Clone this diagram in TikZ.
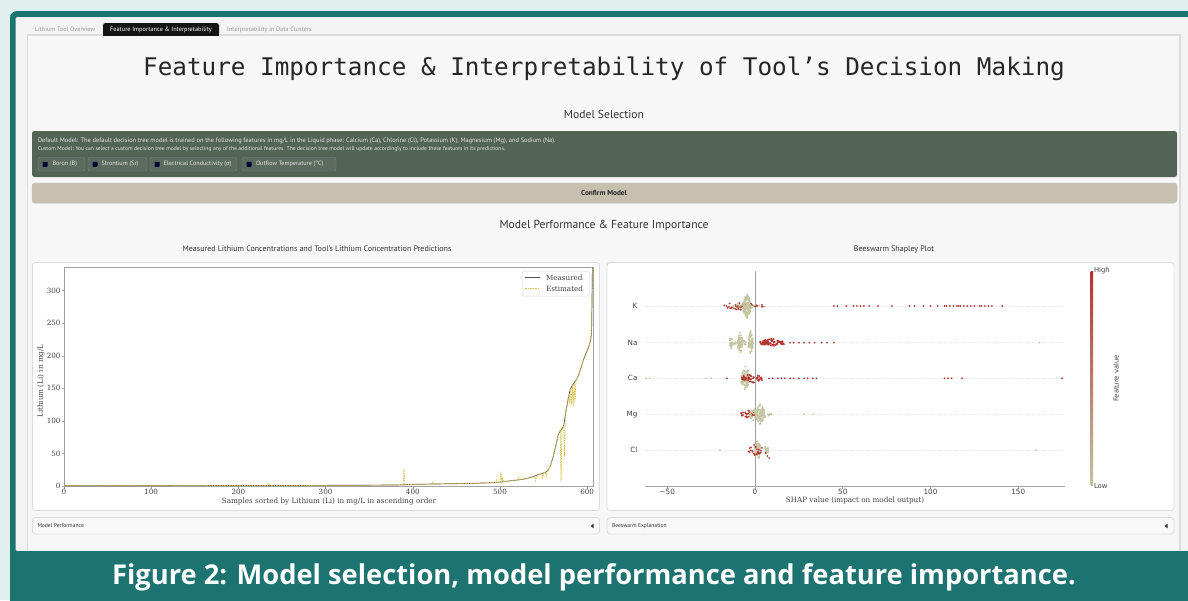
\documentclass[tikz,border=0pt]{standalone}
\usepackage{fontspec}
\setmainfont{PT Sans}
\newfontfamily\monof{DejaVu Sans Mono}
\newfontfamily\pserif{DejaVu Serif}
\newfontfamily\psans{DejaVu Sans}
\newfontfamily\capf{Open Sans}
\newcommand\myfs[1]{\fontsize{#1}{#1}\selectfont}
\definecolor{bgl}{HTML}{E2EFEF}
\definecolor{teal0}{HTML}{1C7370}
\definecolor{panel}{HTML}{F3F3F3}
\definecolor{cbord}{HTML}{DCDCDC}
\definecolor{dkgreen}{HTML}{536455}
\definecolor{pillg}{HTML}{5B6B5D}
\definecolor{confirm}{HTML}{C6C1AE}
\definecolor{shred}{HTML}{B3332E}
\definecolor{shbeige}{HTML}{C3C4A0}
\definecolor{estc}{HTML}{D8BC40}
\definecolor{measc}{HTML}{505050}
\definecolor{axc}{HTML}{A0A0A0}
\definecolor{txt}{HTML}{333333}
\newcommand\swarm[6]{%
  \foreach \k in {1,...,#5}{%
    \pgfmathsetmacro\dv{#3*rand}%
    \pgfmathsetmacro\dy{#4*rand*(1-0.6*abs(\dv)/#3)}%
    \fill[#6] ({#2+\dv},{#1+\dy}) circle (1pt);
  }}
\begin{document}
\begin{tikzpicture}[x=1pt,y=-1pt,
  lbl/.style={inner sep=0pt,outer sep=0pt},
  tabtxt/.style={lbl,font=\myfs{6.3},text=black!40},
  boxtxt/.style={lbl,anchor=west,text=white!90!black},
  head/.style={lbl,font=\myfs{11.6},text=txt},
  ctitle/.style={lbl,font=\myfs{8},text=txt},
  chartpanel/.style={fill=white,draw=cbord,line width=0.8pt,rounded corners=3pt},
  expbar/.style={fill=panel!60!white,draw=cbord,line width=0.8pt,rounded corners=3pt},
  tick/.style={lbl,font=\pserif\myfs{7.2},text=black!75},
  stick/.style={lbl,font=\psans\myfs{7.2},text=black!75},
  axline/.style={draw=axc,line width=0.6pt},
  rowline/.style={draw=black!10,line width=0.5pt,dash pattern=on 0.6pt off 1.6pt},
  pill/.style={fill=pillg,draw=white!20!pillg,line width=0.4pt,rounded corners=2pt},
  cbox/.style={fill=black!80!blue,rounded corners=0.6pt}]
\useasboundingbox (0,0) rectangle (1188,600);
\clip (0,0) rectangle (1188,600);
% background and frame
\fill[bgl] (0,0) rectangle (1188,600);
\fill[teal0,rounded corners=7pt] (10,11) rectangle (1210,620);
\fill[panel,rounded corners=2pt] (15.5,17) rectangle (1200,551);
\draw[fill=panel!70!white,draw=cbord,line width=1.3pt] (27.5,35) rectangle (1180,570);
% tabs
\node[tabtxt] (tab1) at (65,29.5) {Lithium Tool Overview};
\fill[black!92,rounded corners=2.5pt] (103,23) rectangle (219,35.5);
\fill[black!92] (103,31) rectangle (219,35.5);
\node[tabtxt,text=white] (tab2) at (161,29.5) {Feature Importance \& Interpretability};
\node[tabtxt] (tab3) at (269.5,29.5) {Interpretability in Data Clusters};
% title
\node[lbl,font=\monof\myfs{24.3},text=black!85] (title) at (604,68.5) {Feature Importance \& Interpretability of Tool’s Decision Making};
\node[head] (msel) at (604,114) {Model Selection};
% dark box
\fill[dkgreen,rounded corners=2.5pt] (32,131) rectangle (1177,177);
\node[boxtxt,font=\myfs{6.4}] (l1) at (38,140.5) {Default Model: The default decision tree model is trained on the following features in mg/L in the Liquid phase: Calcium (Ca), Chlorine (Cl), Potassium (K), Magnesium (Mg), and Sodium (Na).};
\node[boxtxt,font=\myfs{5.6}] (l2) at (38,149.5) {Custom Model: You can select a custom decision tree model by selecting any of the additional features. The decision tree model will update accordingly to include these features in its predictions.};
\draw[pill] (38,157.5) rectangle (85,171);
\draw[pill] (88,157.5) rectangle (147,171);
\draw[pill] (150,157.5) rectangle (237,171);
\draw[pill] (242,157.5) rectangle (336,171);
\fill[cbox] (42.5,161.8) rectangle (47.5,166.8);
\fill[cbox] (92.5,161.8) rectangle (97.5,166.8);
\fill[cbox] (154.5,161.8) rectangle (159.5,166.8);
\fill[cbox] (246.5,161.8) rectangle (251.5,166.8);
\node[boxtxt,font=\myfs{6.2}] (c1) at (52.5,164.3) {Boron (B)};
\node[boxtxt,font=\myfs{6.2}] (c2) at (101.5,164.3) {Strontium (Sr)};
\node[boxtxt,font=\myfs{6.2}] (c3) at (163.5,164.3) {Electrical Conductivity ({\psans\myfs{5.6}σ})};
\node[boxtxt,font=\myfs{6.2}] (c4) at (256,164.3) {Outflow Temperature (°C)};
% confirm
\draw[fill=confirm,draw=black!25,line width=0.5pt,rounded corners=3pt] (32,183) rectangle (1177,203);
\node[lbl,font=\bfseries\myfs{7.3},text=black!85] (conf) at (604,192.5) {Confirm Model};
\node[head] (mperf) at (604,226) {Model Performance \& Feature Importance};
\node[ctitle] (ct1) at (317,249) {Measured Lithium Concentrations and Tool’s Lithium Concentration Predictions};
\node[ctitle] (ct2) at (894,249) {Beeswarm Shapley Plot};
% chart panels
\draw[chartpanel] (32.5,262.5) rectangle (599.5,510.5);
\draw[chartpanel] (607,262.5) rectangle (1174,510.5);
% ---------- left plot ----------
\begin{scope}[xshift=64pt,yshift=-486pt,x=0.872pt,y=0.651pt]
  \draw[axline] (0,0) rectangle (606.6,336.4);
  \foreach \t in {0,50,...,300}{
    \draw[axline] (0,\t) -- ++(-2.5pt,0) node[tick,anchor=east,xshift=-1pt] (yt\t) {\t};}
  \foreach \t in {0,100,...,600}{
    \draw[axline] (\t,0) -- ++(0,-2.5pt) node[tick,anchor=north,yshift=-0.5pt] (xt\t) {\t};}
  \draw[measc,line width=0.7pt,line join=round] plot coordinates {(0,0.3) (100,0.5) (200,0.7) (300,1) (380,1.5) (400,2.5) (430,3.2) (460,3.8) (490,5) (500,6) (515,8.5) (525,10) (535,13) (545,18) (552,21) (555,24) (558,32) (561,45) (564,62) (567,80) (570,86) (573,92) (575,110) (577,125) (579,140) (581,150) (584,157) (587,162) (590,170) (593,182) (596,195) (599,205) (602,215) (604,225) (605,235) (606,336)};
  \draw[estc,line width=0.7pt,dash pattern=on 1.5pt off 1pt] plot coordinates {(0,0.3) (100,0.5) (200,0.7) (234,0.7) (235,4) (236,0.7) (300,1) (380,1.5) (389,2) (390,27) (391,2) (400,2.5) (422,3) (423,6) (424,3) (430,3.2) (460,3.8) (490,5) (495,5.5) (496,9) (497,5.5) (500,6) (501,22) (502,6) (503,12) (504,6.5) (515,8.5) (520,9) (521,13) (522,9.5) (525,10) (535,13) (540,14) (541,8) (542,15) (545,18) (548,19) (549,13) (550,20) (552,21) (553,15) (554,22) (555,24) (558,32) (561,45) (564,62) (567,80) (569,85) (570,8) (571,88) (573,92) (574,45) (575,110) (577,125) (579,140) (580,126) (581,150) (582,125) (583,155) (584,122) (585,158) (586,128) (587,162) (590,170) (593,182) (596,195) (597,200) (599,205) (600,208) (602,215) (604,225) (605,235) (606,336)};
\end{scope}
\node[tick,rotate=90] (ylab) at (41,381) {Lithium (Li) in mg/L};
\node[tick] (xlab) at (329,501.5) {Samples sorted by Lithium (Li) in mg/L in ascending order};
% legend
\draw[fill=white,draw=black!15,line width=0.5pt,rounded corners=1.5pt] (522,271) rectangle (589,296);
\coordinate (lm1) at (525,277.5); \coordinate (lm2) at (540,277.5);
\coordinate (le1) at (525,288.5); \coordinate (le2) at (540,288.5);
\draw[measc,line width=0.7pt] (lm1) -- (lm2);
\draw[estc,line width=0.7pt,dash pattern=on 1.5pt off 1pt] (le1) -- (le2);
\node[tick,anchor=west] (legm) at (546,277.5) {Measured};
\node[tick,anchor=west] (lege) at (546,288.5) {Estimated};
% ---------- right plot ----------
\pgfmathsetseed{7}
\begin{scope}[xshift=755pt,x=1.755pt]
  \foreach \r in {306,342.7,378.3,414.3,450}{\draw[rowline] (-62.7,\r) -- (176.6,\r);}
  \draw[axline] (0,271) -- (0,486);
  \draw[axline] (-62.7,486) -- (176.6,486);
  \foreach \t/\s in {-50/−50,0/0,50/50,100/100,150/150}{
    \draw[axline] (\t,486) -- ++(0,-2.5pt) node[stick,anchor=north,yshift=-0.8pt] (st\t) {\s};}
  \node[stick,anchor=east] (fK) at (-67,306) {K};
  \node[stick,anchor=east] (fNa) at (-67,342.7) {Na};
  \node[stick,anchor=east] (fCa) at (-67,378.3) {Ca};
  \node[stick,anchor=east] (fMg) at (-67,414.3) {Mg};
  \node[stick,anchor=east] (fCl) at (-67,450) {Cl};
  % K
  \swarm{306}{-9}{9}{4}{40}{shred}
  \swarm{306}{-4.7}{2}{13}{130}{shbeige}
  \swarm{306}{-8}{5}{4}{20}{shbeige}
  \swarm{306}{2}{5}{2}{8}{shbeige}
  \swarm{306}{3}{4}{1.5}{6}{shred}
  \foreach \v in {45,47,52,56,58,60,62,65,70,78,88,91,96,100,104,108,109,111,113,115,116,117,119,121,123,125,128,129,131,133,135,141}{\fill[shred] (\v,306) circle (1pt);}
  % Na
  \swarm{342.7}{-13.7}{0.8}{7}{25}{shbeige}
  \swarm{342.7}{-8.5}{1.3}{12}{60}{shbeige}
  \swarm{342.7}{-2.5}{1.3}{12}{60}{shbeige}
  \swarm{342.7}{-7}{7}{2.5}{25}{shbeige}
  \swarm{342.7}{10}{7}{4}{90}{shred}
  \foreach \v in {20,22,25,28,31,34,38,41,45}{\fill[shred] (\v,342.7) circle (1pt);}
  \fill[shbeige] (162,342.7) circle (1pt);
  % Ca
  \swarm{378.3}{-5.5}{2.3}{12}{90}{shbeige}
  \swarm{378.3}{-2}{6}{5}{50}{shred}
  \foreach \v in {-16,8,10,13,15,17,20,22,25,28,30,33,35,108,110,112,118,175}{\fill[shred] (\v,378.3) circle (1pt);}
  \foreach \v in {-62,-60,-28,-25}{\fill[shbeige] (\v,378.3) circle (1pt);}
  % Mg
  \swarm{414.3}{-4}{4}{4}{35}{shred}
  \swarm{414.3}{3}{2.3}{11}{90}{shbeige}
  \swarm{414.3}{6.5}{4}{3}{25}{shbeige}
  \swarm{414.3}{-1}{2}{7}{30}{shbeige}
  \foreach \v in {28,33}{\fill[shbeige] (\v,414.3) circle (1pt);}
  % Cl
  \swarm{450}{1.5}{1.6}{10}{70}{shbeige}
  \swarm{450}{6.5}{1.2}{6}{20}{shbeige}
  \swarm{450}{0}{4}{6}{25}{shred}
  \foreach \v/\o in {6/3,7/6,8/8,-3/-2}{\fill[shred] (\v,450+\o) circle (1pt);}
  \foreach \v in {-20,160}{\fill[shbeige] (\v,450) circle (1pt);}
\end{scope}
\node[tick] (slab) at (855,500.5) {SHAP value (impact on model output)};
% colorbar
\shade[top color=shred,bottom color=shbeige] (1090.5,271) rectangle (1093,485.5);
\node[stick,anchor=west,font=\psans\myfs{6.8}] (hi) at (1094,270.5) {High};
\node[stick,anchor=west,font=\psans\myfs{6.8}] (lo) at (1094,486.5) {Low};
\node[stick,rotate=90,font=\psans\myfs{6.8}] (fv) at (1116,378.5) {Feature value};
% expander bars
\draw[expbar] (32.5,517.5) rectangle (599.5,534);
\draw[expbar] (607,517.5) rectangle (1174,534);
\node[lbl,anchor=west,font=\myfs{5.6},text=black!80] (mp) at (37.5,526) {Model Performance};
\node[lbl,anchor=west,font=\myfs{5.6},text=black!80] (be) at (612,526) {Beeswarm Explanation};
\fill[black!80] (593.5,523.8) -- (593.5,528.2) -- (590.5,526) -- cycle;
\fill[black!80] (1167.5,523.8) -- (1167.5,528.2) -- (1164.5,526) -- cycle;
% caption band
\fill[teal0] (10,551) rectangle (1188,600);
\node[lbl,font=\capf\bfseries\myfs{27.3},text=white] (cap) at (594,577) {Figure 2: Model selection, model performance and feature importance.};
\end{tikzpicture}
\end{document}
